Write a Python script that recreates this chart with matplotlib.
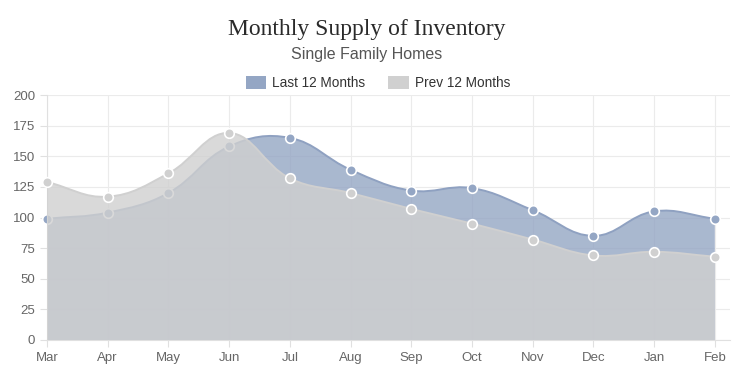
import numpy as np
import matplotlib
matplotlib.use('Agg')
import matplotlib.pyplot as plt
from matplotlib.path import Path
from matplotlib.patches import PathPatch, Patch

months = ['Mar', 'Apr', 'May', 'Jun', 'Jul', 'Aug', 'Sep', 'Oct', 'Nov', 'Dec', 'Jan', 'Feb']
last_12 = [99, 104, 120, 158, 165, 139, 122, 124, 106, 85, 105, 99]
prev_12 = [129, 117, 136, 169, 132, 120, 107, 95, 82, 69, 72, 68]
y_ticks = [0, 25, 50, 75, 100, 125, 150, 175, 200]

plt.rcParams['font.family'] = ['Liberation Sans', 'DejaVu Sans']

fig = plt.figure(figsize=(7.34, 3.66), dpi=100)
ax = fig.add_axes([47 / 734, 26 / 366, 683 / 734, 245 / 366])
ax.set_xlim(0, 11.25)
ax.set_ylim(0, 200)


def smooth_path(xs, ys, tension=0.4, base=None):
    # chart.js style bezier, control points computed in pixel space
    pts = ax.transData.transform(np.column_stack([xs, ys]))
    n = len(pts)
    cp_prev = pts.copy()
    cp_next = pts.copy()
    for i in range(n):
        p0 = pts[max(i - 1, 0)]
        p1 = pts[i]
        p2 = pts[min(i + 1, n - 1)]
        d01 = np.hypot(*(p1 - p0))
        d12 = np.hypot(*(p2 - p1))
        tot = d01 + d12
        s01 = d01 / tot if tot else 0
        s12 = d12 / tot if tot else 0
        cp_prev[i] = p1 - tension * s01 * (p2 - p0)
        cp_next[i] = p1 + tension * s12 * (p2 - p0)
    inv = ax.transData.inverted()
    pts_d = inv.transform(pts)
    cpp = inv.transform(cp_prev)
    cpn = inv.transform(cp_next)
    verts = [pts_d[0]]
    codes = [Path.MOVETO]
    for i in range(n - 1):
        verts += [cpn[i], cpp[i + 1], pts_d[i + 1]]
        codes += [Path.CURVE4] * 3
    if base is not None:
        verts += [(xs[-1], base), (xs[0], base), pts_d[0]]
        codes += [Path.LINETO, Path.LINETO, Path.CLOSEPOLY]
    return Path(verts, codes)


x = np.arange(len(months))

series = [
    (last_12, (148 / 255, 166 / 255, 196 / 255, 0.8), '#8fa1c1', '#94a6c4'),
    (prev_12, (208 / 255, 208 / 255, 208 / 255, 0.8), '#d0d0d0', '#d0d0d0'),
]
z = 2
for vals, fill_c, line_c, mark_c in series:
    ax.add_patch(PathPatch(smooth_path(x, vals, base=0), facecolor=fill_c,
                           edgecolor='none', zorder=z))
    ax.add_patch(PathPatch(smooth_path(x, vals), facecolor='none',
                           edgecolor=line_c, linewidth=1.4, zorder=z + 0.1))
    ax.scatter(x, vals, s=48, color=mark_c, edgecolors='white', linewidths=1.2,
               zorder=z + 0.2, clip_on=False)
    z += 1

ax.set_xticks(x)
ax.set_xticklabels(months)
ax.set_yticks(y_ticks)
ax.grid(True, color='#ebebeb', linewidth=0.8, zorder=0)
ax.set_axisbelow(True)
for side in ['top', 'right']:
    ax.spines[side].set_visible(False)
ax.spines['left'].set_color('#e0e0e0')
ax.spines['bottom'].set_color('#e0e0e0')
ax.tick_params(axis='both', colors='#e0e0e0', labelcolor='#666666', labelsize=9.5,
               length=5, width=0.8)

fig.text(0.5, 1 - 30 / 366, 'Monthly Supply of Inventory', ha='center', va='center',
         fontsize=17, color='#2a2a2a', family=['Liberation Serif', 'DejaVu Serif'])
fig.text(0.5, 1 - 54 / 366, 'Single Family Homes', ha='center', va='center',
         fontsize=11.5, color='#555555')

handles = [Patch(facecolor='#94a6c4', edgecolor='none', label='Last 12 Months'),
           Patch(facecolor='#d0d0d0', edgecolor='none', label='Prev 12 Months')]
fig.legend(handles=handles, loc='center', bbox_to_anchor=(378 / 734, 1 - 83 / 366), ncol=2,
           frameon=False, fontsize=9.8, handlelength=1.5, handleheight=1.1,
           handletextpad=0.45, columnspacing=1.7, labelcolor='#333333')

fig.savefig('out.png', dpi=100)
